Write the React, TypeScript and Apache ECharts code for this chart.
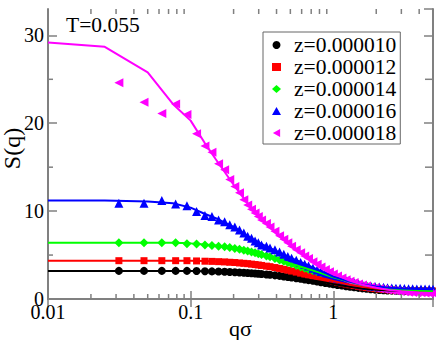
import React, { useEffect, useRef } from "react";
import * as echarts from "echarts";

const seriesNames = ["z=0.000010", "z=0.000012", "z=0.000014", "z=0.000016", "z=0.000018"];
const colors = ["#000000", "#ff0000", "#00ff00", "#0000ff", "#ff00ff"];
const xTickLabels = ["0.01", "0.1", "1"];
const yTickLabels = ["0", "10", "20", "30"];

const qPts = [
  0.0314, 0.0471, 0.0628, 0.0785, 0.0942, 0.110, 0.126, 0.141, 0.157, 0.173,
  0.188, 0.204, 0.220, 0.236, 0.251, 0.267, 0.283, 0.298, 0.314, 0.34,
  0.36, 0.39, 0.42, 0.45, 0.48, 0.51, 0.55, 0.59, 0.63, 0.67,
  0.72, 0.77, 0.82, 0.88, 0.94, 1.0, 1.07, 1.15, 1.23, 1.31,
  1.4, 1.5, 1.6, 1.71, 1.83, 1.96, 2.1, 2.25, 2.4, 2.57,
  2.75, 2.94, 3.15, 3.37, 3.6, 3.85, 4.12, 4.4, 4.7, 5.0,
];

const sZ10 = [
  3.2, 3.2, 3.2, 3.2, 3.2, 3.18, 3.16, 3.14, 3.12, 3.1,
  3.07, 3.05, 3.02, 2.99, 2.96, 2.93, 2.9, 2.87, 2.84, 2.79,
  2.75, 2.69, 2.63, 2.57, 2.51, 2.45, 2.37, 2.3, 2.22, 2.15,
  2.07, 1.99, 1.91, 1.83, 1.75, 1.68, 1.6, 1.53, 1.46, 1.39,
  1.33, 1.27, 1.21, 1.16, 1.11, 1.07, 1.03, 1.0, 0.97, 0.95,
  0.93, 0.91, 0.9, 0.89, 0.88, 0.88, 0.87, 0.87, 0.87, 0.87,
];
const sZ12 = [
  4.36, 4.36, 4.36, 4.36, 4.36, 4.33, 4.3, 4.28, 4.25, 4.22,
  4.18, 4.15, 4.1, 4.06, 4.02, 3.97, 3.92, 3.87, 3.82, 3.74,
  3.68, 3.58, 3.48, 3.38, 3.28, 3.18, 3.06, 2.94, 2.83, 2.72,
  2.6, 2.48, 2.37, 2.25, 2.14, 2.03, 1.92, 1.81, 1.71, 1.62,
  1.53, 1.45, 1.37, 1.3, 1.24, 1.18, 1.13, 1.09, 1.05, 1.02,
  0.99, 0.97, 0.95, 0.94, 0.93, 0.92, 0.92, 0.91, 0.91, 0.91,
];
const sZ14 = [
  6.4, 6.4, 6.4, 6.4, 6.3, 6.25, 6.15, 6.1, 6.0, 5.95,
  5.85, 5.75, 5.65, 5.55, 5.45, 5.35, 5.25, 5.15, 5.05, 4.9,
  4.8, 4.6, 4.45, 4.3, 4.15, 4.0, 3.8, 3.65, 3.5, 3.35,
  3.2, 3.05, 2.9, 2.75, 2.6, 2.45, 2.3, 2.15, 2.02, 1.9,
  1.78, 1.67, 1.57, 1.48, 1.4, 1.32, 1.25, 1.19, 1.14, 1.1,
  1.06, 1.03, 1.0, 0.98, 0.96, 0.95, 0.94, 0.93, 0.92, 0.92,
];
const sZ16 = [
  10.9, 10.9, 11.2, 10.8, 10.6, 9.95, 9.5, 9.4, 9.0, 8.8,
  8.45, 8.2, 7.85, 7.5, 7.15, 6.9, 6.6, 6.4, 6.15, 6.0,
  5.8, 5.6, 5.35, 5.1, 4.85, 4.65, 4.4, 4.15, 3.95, 3.75,
  3.5, 3.3, 3.1, 2.9, 2.7, 2.5, 2.35, 2.2, 2.05, 1.93,
  1.82, 1.72, 1.63, 1.55, 1.48, 1.42, 1.37, 1.33, 1.29, 1.26,
  1.23, 1.21, 1.19, 1.17, 1.16, 1.15, 1.14, 1.13, 1.13, 1.12,
];
const sZ18 = [
  24.6, 22.4, 21.1, 22.2, 21.0, 18.8, 17.4, 16.7, 15.4, 14.7,
  13.6, 12.8, 12.1, 11.3, 10.7, 10.2, 9.8, 9.4, 9.0, 8.6,
  8.2, 7.7, 7.2, 6.8, 6.4, 6.0, 5.6, 5.25, 4.9, 4.6,
  4.25, 3.95, 3.65, 3.35, 3.1, 2.85, 2.62, 2.4, 2.2, 2.03,
  1.87, 1.72, 1.6, 1.48, 1.37, 1.27, 1.18, 1.1, 1.03, 0.97,
  0.91, 0.86, 0.82, 0.78, 0.75, 0.72, 0.7, 0.68, 0.66, 0.65,
];

const qFit = [0.01, 0.025, 0.05, 0.075, 0.1, 0.125, 0.15, 0.2, 0.25, 0.3, 0.4, 0.5, 0.6, 0.8, 1.0, 1.3, 1.6, 2.0, 2.5, 3, 4, 5];
const fitZ10 = [3.2, 3.2, 3.2, 3.2, 3.19, 3.17, 3.14, 3.06, 2.96, 2.87, 2.66, 2.47, 2.3, 2.0, 1.7, 1.4, 1.2, 1.05, 0.96, 0.92, 0.88, 0.87];
const fitZ12 = [4.36, 4.36, 4.36, 4.35, 4.34, 4.31, 4.27, 4.15, 4.02, 3.87, 3.55, 3.24, 2.94, 2.45, 2.05, 1.63, 1.38, 1.19, 1.06, 0.99, 0.93, 0.91];
const fitZ14 = [6.4, 6.4, 6.4, 6.4, 6.33, 6.2, 6.08, 5.78, 5.45, 5.15, 4.55, 4.05, 3.65, 3.0, 2.48, 1.95, 1.6, 1.35, 1.15, 1.04, 0.95, 0.92];
const fitZ16 = [11.2, 11.2, 11.1, 10.9, 10.4, 9.7, 9.2, 8.2, 7.2, 6.4, 5.45, 4.7, 4.15, 3.25, 2.55, 1.98, 1.65, 1.41, 1.27, 1.2, 1.14, 1.12];
const fitZ18 = [29.2, 28.7, 25.8, 22.2, 20.3, 17.8, 15.9, 13.0, 10.9, 9.4, 7.4, 6.1, 5.2, 3.85, 2.9, 2.1, 1.62, 1.27, 1.01, 0.88, 0.73, 0.65];

const xMinorTicks = [0.02, 0.03, 0.04, 0.05, 0.06, 0.07, 0.08, 0.09, 0.2, 0.3, 0.4, 0.5, 0.6, 0.7, 0.8, 0.9, 2, 3, 4];
const yMinorTicks = [5, 15, 25];

const X_MIN = 0.01;
const X_MAX = 5;
const Y_MIN = 0;
const Y_MAX = 33;

const FONT = "Liberation Serif";
const FRAME = "#808080";

export default function App() {
  const ref = useRef<HTMLDivElement>(null);
  useEffect(() => {
    if (!ref.current) return;
    const chart = echarts.init(ref.current, null, { renderer: "svg" });
    const pts = [sZ10, sZ12, sZ14, sZ16, sZ18];
    const fits = [fitZ10, fitZ12, fitZ14, fitZ16, fitZ18];
    const symbols = ["circle", "rect", "diamond", "triangle", "path://M0,5 L9,0 L9,10 Z"];
    const sizes = [8, 7, 9, 9, 9];

    const scatterSeries = seriesNames.map((name, i) => ({
      name,
      type: "scatter",
      symbol: symbols[i],
      symbolSize: sizes[i],
      itemStyle: { color: colors[i], opacity: 1 },
      data: qPts.map((q, j) => [q, pts[i][j]]),
      z: 2 + i,
    }));
    const lineSeries = seriesNames.map((name, i) => ({
      name: "fit " + name,
      type: "line",
      showSymbol: false,
      symbol: "none",
      lineStyle: { color: colors[i], width: 2 },
      itemStyle: { color: colors[i] },
      data: qFit.map((q, j) => [q, fits[i][j]]),
      z: 10,
    }));

    const tickStyle = { stroke: FRAME, lineWidth: 1.5 };
    const minorX = {
      type: "custom",
      silent: true,
      z: 20,
      data: xMinorTicks.map((q) => [q, Y_MIN]),
      renderItem: (params: any, api: any) => {
        const q = api.value(0);
        const b = api.coord([q, Y_MIN]);
        const t = api.coord([q, Y_MAX]);
        return {
          type: "group",
          children: [
            { type: "line", shape: { x1: b[0], y1: b[1], x2: b[0], y2: b[1] - 5 }, style: tickStyle },
            { type: "line", shape: { x1: t[0], y1: t[1], x2: t[0], y2: t[1] + 5 }, style: tickStyle },
          ],
        };
      },
    };
    const minorY = {
      type: "custom",
      silent: true,
      z: 20,
      data: yMinorTicks.map((v) => [X_MIN, v]),
      renderItem: (params: any, api: any) => {
        const v = api.value(1);
        const l = api.coord([X_MIN, v]);
        const r = api.coord([X_MAX, v]);
        return {
          type: "group",
          children: [
            { type: "line", shape: { x1: l[0], y1: l[1], x2: l[0] + 5, y2: l[1] }, style: tickStyle },
            { type: "line", shape: { x1: r[0], y1: r[1], x2: r[0] - 8, y2: r[1] }, style: tickStyle },
          ],
        };
      },
    };

    const xLabel = (v: number) => {
      const e = Math.log10(v);
      const idx = Math.round(e) + 2;
      if (Math.abs(e - Math.round(e)) > 1e-6 || idx < 0 || idx >= xTickLabels.length) return "";
      return xTickLabels[idx];
    };
    const yLabel = (v: number) => {
      const idx = Math.round(v / 10);
      if (Math.abs(v - idx * 10) > 1e-6 || idx < 0 || idx >= yTickLabels.length) return "";
      return yTickLabels[idx];
    };

    chart.setOption({
      animation: false,
      backgroundColor: "#ffffff",
      textStyle: { fontFamily: FONT },
      grid: { left: 48, right: 3, top: 9, bottom: 41, containLabel: false, outerBoundsMode: "none" },
      legend: {
        data: seriesNames,
        orient: "vertical",
        left: 263,
        top: 32,
        padding: [2, 4, 0, 9],
        itemWidth: 9,
        itemHeight: 8,
        itemGap: 0,
        borderColor: "#666666",
        borderWidth: 1,
        backgroundColor: "#ffffff",
        textStyle: { fontFamily: FONT, fontSize: 21.5, color: "#000000", lineHeight: 20, padding: [0, 0, 0, 8] },
      },
      graphic: [
        {
          type: "text",
          left: 66,
          top: 14,
          style: { text: "T=0.055", fontFamily: FONT, fontSize: 21.5, fill: "#000000" },
        },
      ],
      xAxis: [
        {
          type: "log",
          logBase: 10,
          min: X_MIN,
          max: X_MAX,
          name: "qσ",
          nameLocation: "middle",
          nameGap: 18,
          nameMoveOverlap: false,
          nameTextStyle: { fontFamily: FONT, fontSize: 22, color: "#000000" },
          axisLine: { show: true, lineStyle: { color: FRAME, width: 2 } },
          axisTick: { show: true, inside: true, length: 8, lineStyle: { color: FRAME, width: 1.5 } },
          axisLabel: { fontFamily: FONT, fontSize: 20, color: "#000000", margin: 3, formatter: xLabel, showMaxLabel: false },
          splitLine: { show: false },
          minorTick: { show: false },
        },
        {
          type: "log",
          logBase: 10,
          min: X_MIN,
          max: X_MAX,
          position: "top",
          axisLine: { show: true, lineStyle: { color: FRAME, width: 2 } },
          axisTick: { show: true, inside: true, length: 8, lineStyle: { color: FRAME, width: 1.5 } },
          axisLabel: { show: false },
          splitLine: { show: false },
        },
      ],
      yAxis: [
        {
          type: "value",
          min: Y_MIN,
          max: Y_MAX,
          interval: 10,
          name: "S(q)",
          nameLocation: "middle",
          nameGap: 24,
          nameMoveOverlap: false,
          nameTextStyle: { fontFamily: FONT, fontSize: 24, color: "#000000", padding: [0, 0, 0, 11] },
          axisLine: { show: true, lineStyle: { color: FRAME, width: 2 } },
          axisTick: { show: true, inside: true, length: 9, lineStyle: { color: FRAME, width: 1.5 } },
          axisLabel: { fontFamily: FONT, fontSize: 20, color: "#000000", margin: 4, formatter: yLabel, showMaxLabel: false },
          splitLine: { show: false },
        },
        {
          type: "value",
          min: Y_MIN,
          max: Y_MAX,
          interval: 10,
          position: "right",
          axisLine: { show: true, lineStyle: { color: FRAME, width: 2 } },
          axisTick: { show: true, inside: true, length: 9, lineStyle: { color: FRAME, width: 1.5 } },
          axisLabel: { show: false },
          splitLine: { show: false },
        },
      ],
      series: [...scatterSeries, ...lineSeries, minorX, minorY],
    });
    return () => chart.dispose();
  }, []);
  return (
    <div
      ref={ref}
      style={{ position: "fixed", left: 0, top: 0, width: 436, height: 340, background: "#fff" }}
    />
  );
}
